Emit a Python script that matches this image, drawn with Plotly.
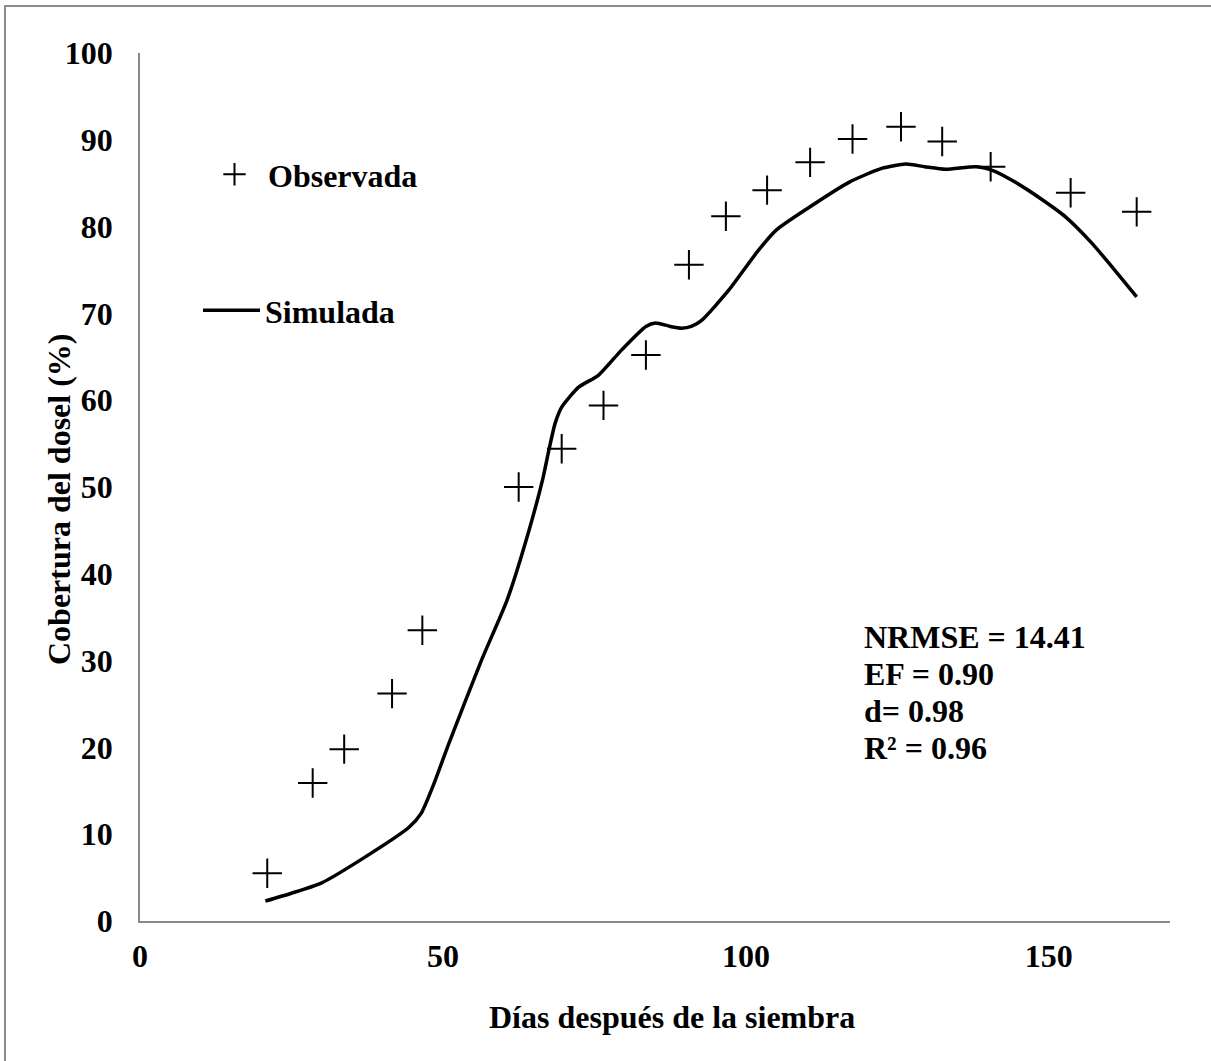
import plotly.graph_objects as go

# Observed canopy cover
obs_days = [21, 28.5, 33.7, 41.6, 46.6, 62.5, 69.6, 76.5, 83.5, 90.6, 96.7, 103.5, 110.6, 117.6, 125.6, 132.4, 140.4, 153.6, 164.5]
obs_cover = [5.5, 15.9, 19.8, 26.2, 33.5, 50.0, 54.4, 59.4, 65.2, 75.6, 81.2, 84.2, 87.4, 90.1, 91.5, 89.8, 86.9, 83.9, 81.7]

# Simulated canopy cover
sim_days = [20.7, 25, 30.0, 37, 44.4, 46.4, 48.5, 51.0, 56.4, 60.6, 64.2, 66.5, 67.5, 68.5, 69.6, 72.4, 75.7, 79.5,
            83.5, 85.1, 87.5, 89.4, 91.0, 92.7, 97.2, 102.1, 105, 110.4, 117, 122.4, 126.4, 129.5, 133, 138, 141,
            144.5, 148.5, 152.8, 157.1, 160.5, 164.5]
sim_cover = [2.3, 3.2, 4.4, 7.3, 10.8, 12.4, 15.8, 20.5, 30.1, 37.0, 45.0, 51.0, 54.3, 57.3, 59.2, 61.5, 62.9, 65.8,
             68.5, 68.9, 68.5, 68.3, 68.5, 69.2, 72.7, 77.3, 79.6, 82.2, 85.1, 86.7, 87.2, 86.9, 86.6, 86.9, 86.4,
             85.1, 83.3, 81.1, 78.1, 75.3, 71.9]

stats_lines = ["NRMSE = 14.41", "EF = 0.90", "d= 0.98", "R² = 0.96"]
x_title = "Días después de la siembra"
y_title = "Cobertura del dosel (%)"

FONT = dict(family="Liberation Serif", size=32, color="black", weight="bold")

fig = go.Figure()
fig.add_trace(go.Scatter(
    x=obs_days, y=obs_cover, mode="markers", name="Observada",
    marker=dict(symbol="cross-thin", size=21, color="black", line=dict(color="black", width=2)),
    legend="legend",
))
fig.add_trace(go.Scatter(
    x=sim_days, y=sim_cover, mode="lines", name="Simulada",
    line=dict(color="black", width=3.5, shape="spline", smoothing=0.6),
    legend="legend2",
))

axis_common = dict(
    showline=True, linecolor="#8a8a8a", linewidth=1.5, showgrid=False, zeroline=False,
    ticks="", tickfont=FONT,
)

annotations = []
for i, line in enumerate(stats_lines):
    annotations.append(dict(text=line, xref="paper", yref="paper", x=(862 - 140) / 1030,
                            y=(921 - (637 + 37 * i)) / 868, xanchor="left", yanchor="middle",
                            align="left", showarrow=False, font=FONT))
annotations += [
    dict(text=x_title, xref="paper", yref="paper", x=(672 - 140) / 1030, y=(921 - 1017) / 868,
         xanchor="center", yanchor="middle", showarrow=False, font=FONT),
    dict(text=y_title, xref="paper", yref="paper", x=(59 - 140) / 1030, y=(921 - 499) / 868,
         xanchor="center", yanchor="middle", showarrow=False, textangle=-90, font=FONT),
]

fig.update_layout(
    width=1211, height=1061,
    margin=dict(l=140, r=41, t=53, b=140, autoexpand=False),
    paper_bgcolor="white", plot_bgcolor="white",
    font=FONT,
    showlegend=True,
    xaxis=dict(range=[0, 170], tickvals=[0, 50, 100, 150], ticklabelstandoff=6, **axis_common),
    yaxis=dict(range=[0, 100], tickvals=list(range(0, 101, 10)), ticklabelstandoff=19, **axis_common),
    legend=dict(x=(201 - 140) / 1030, y=(921 - 147) / 868, xanchor="left", yanchor="top",
                bgcolor="rgba(0,0,0,0)", font=FONT, itemwidth=57, visible=True),
    legend2=dict(x=(198 - 140) / 1030, y=(921 - 283) / 868, xanchor="left", yanchor="top",
                 bgcolor="rgba(0,0,0,0)", font=FONT, itemwidth=57, visible=True),
    annotations=annotations,
    shapes=[
        dict(type="rect", xref="paper", yref="paper",
             x0=(5 - 140) / 1030, x1=(1230 - 140) / 1030, y0=(921 - 1080) / 868, y1=(921 - 6) / 868,
             line=dict(color="#8c8c8c", width=2), fillcolor="rgba(0,0,0,0)", layer="below"),
    ],
)

fig.write_html("out.html")
